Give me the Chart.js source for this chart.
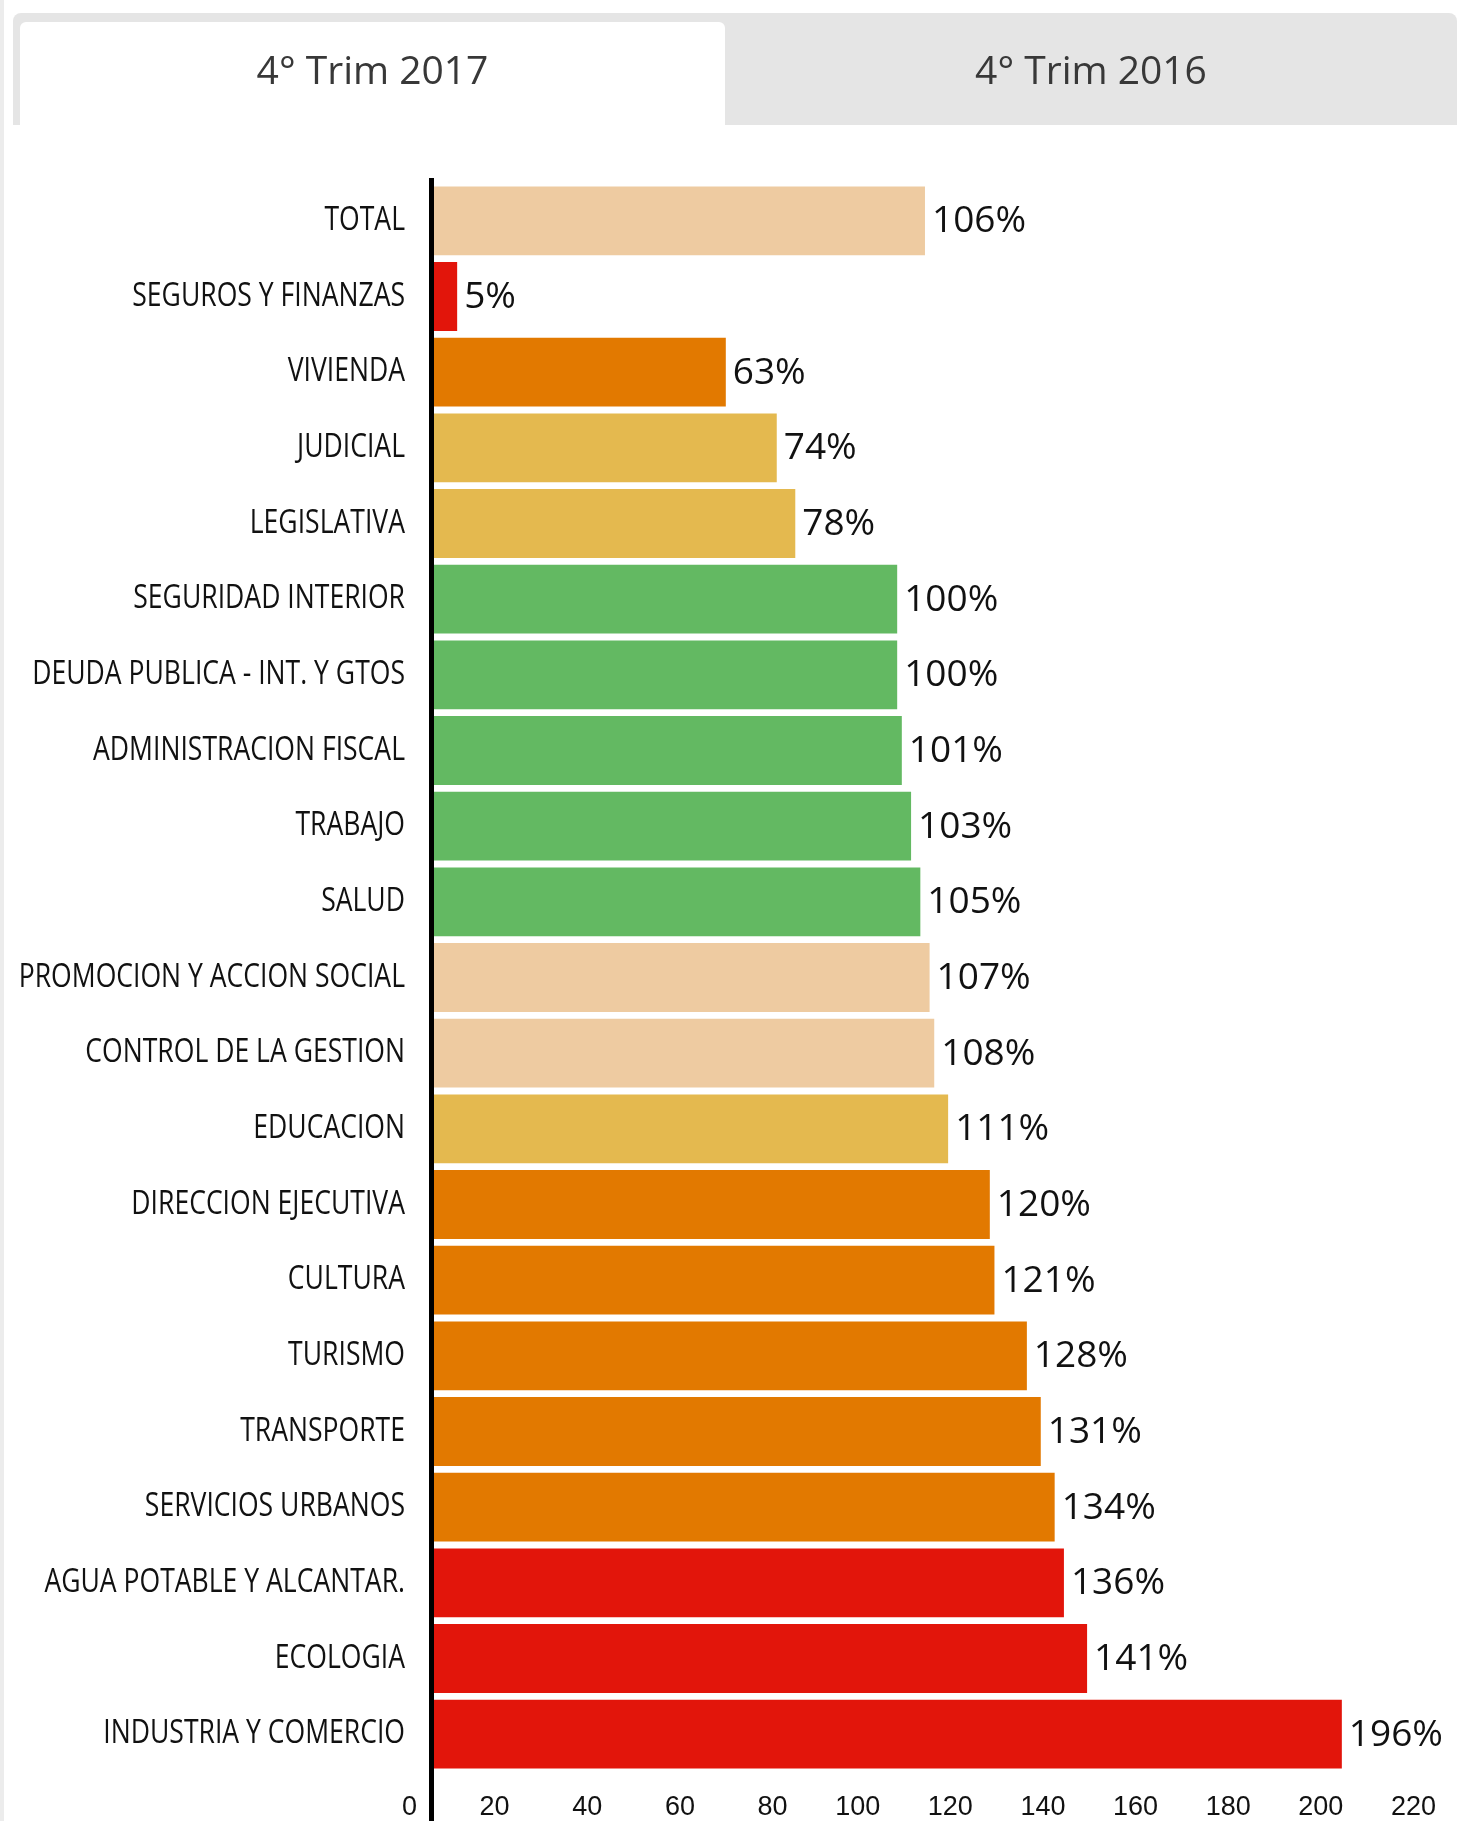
<!DOCTYPE html>
<html>
<head>
    <title>4° Trim 2017</title>
    <script src="https://cdn.jsdelivr.net/npm/chart.js"></script>
    <style>
        body {
            margin: 0;
            background-color: #fff;
            overflow: hidden;
            font-family: "Open Sans", sans-serif;
        }
        .strip {
            position: absolute;
            left: 0;
            top: 0;
            width: 4px;
            height: 1821px;
            background-color: #ececec;
        }
        .chart-container {
            position: absolute;
            left: 0;
            top: 0;
            width: 1457px;
            height: 1821px;
        }
        .tabs {
            position: absolute;
            left: 13px;
            top: 13px;
            right: 0;
            height: 112px;
            background-color: #e5e5e5;
            border-radius: 8px 8px 0 0;
        }
        .tab-bg {
            position: absolute;
            left: 7px;
            top: 9px;
            width: 705px;
            bottom: 0;
            background-color: #fff;
            border-radius: 6px 6px 0 0;
        }
        .tab {
            position: absolute;
            top: 0;
            height: 112px;
            line-height: 112px;
            text-align: center;
            font-size: 39px;
            color: #383838;
        }
        .tab.active {
            left: 7px;
            width: 705px;
        }
        .tab.other {
            left: 712px;
            right: 0;
        }
    </style>
</head>
<body>
<div class="strip"></div>
<div class="chart-container">
    <canvas id="trimChart"></canvas>
</div>
<div class="tabs">
    <div class="tab-bg"></div>
    <div class="tab active">4° Trim 2017</div>
    <div class="tab other">4° Trim 2016</div>
</div>

<script>
    const categories = [
        'TOTAL', 'SEGUROS Y FINANZAS', 'VIVIENDA', 'JUDICIAL', 'LEGISLATIVA',
        'SEGURIDAD INTERIOR', 'DEUDA PUBLICA - INT. Y GTOS', 'ADMINISTRACION FISCAL',
        'TRABAJO', 'SALUD', 'PROMOCION Y ACCION SOCIAL', 'CONTROL DE LA GESTION',
        'EDUCACION', 'DIRECCION EJECUTIVA', 'CULTURA', 'TURISMO', 'TRANSPORTE',
        'SERVICIOS URBANOS', 'AGUA POTABLE Y ALCANTAR.', 'ECOLOGIA', 'INDUSTRIA Y COMERCIO'
    ];
    const values = [106, 5, 63, 74, 78, 100, 100, 101, 103, 105, 107, 108, 111, 120, 121, 128, 131, 134, 136, 141, 196];

    const PEACH = '#eecba1', RED = '#e2150b', ORANGE = '#e27900', GOLD = '#e4b94f', GREEN = '#63b962';
    const barColors = [
        PEACH, RED, ORANGE, GOLD, GOLD,
        GREEN, GREEN, GREEN, GREEN, GREEN,
        PEACH, PEACH, GOLD,
        ORANGE, ORANGE, ORANGE, ORANGE, ORANGE,
        RED, RED, RED
    ];
    const xTicks = { min: 0, max: 220, step: 20 };

    // las etiquetas del original son de una fuente estrecha: se comprimen en horizontal
    const LABEL_STRETCH = 0.83;
    class NarrowCategoryScale extends Chart.CategoryScale {
        _computeLabelArea() {
            return undefined; // sin recorte, si no el texto comprimido se corta
        }
        drawLabels(chartArea) {
            const c = this.ctx;
            const ax = this.right - this.options.ticks.padding;
            c.save();
            c.translate(ax, 0);
            c.scale(LABEL_STRETCH, 1);
            c.translate(-ax, 0);
            super.drawLabels(chartArea);
            c.restore();
        }
    }
    NarrowCategoryScale.id = 'narrowCategory';
    NarrowCategoryScale.defaults = Chart.CategoryScale.defaults;
    Chart.register(NarrowCategoryScale);

    // etiquetas de valor + eje vertical negro
    const extras = {
        id: 'extras',
        afterDatasetsDraw(chart) {
            const c = chart.ctx;
            const meta = chart.getDatasetMeta(0);
            c.save();
            c.font = '37px "Open Sans", sans-serif';
            c.fillStyle = '#111';
            c.textAlign = 'left';
            c.textBaseline = 'middle';
            meta.data.forEach((bar, i) => {
                c.fillText(values[i] + '%', bar.x + 7, bar.y + 1);
            });
            const x0 = chart.scales.x.getPixelForValue(0);
            c.fillStyle = '#000';
            c.fillRect(x0 - 5, chart.chartArea.top - 5, 5, chart.height);
            c.restore();
        }
    };

    const ctx = document.getElementById('trimChart').getContext('2d');
    new Chart(ctx, {
        type: 'bar',
        data: {
            labels: categories,
            datasets: [{
                data: values,
                backgroundColor: barColors,
                borderWidth: 0,
                barPercentage: 0.91,
                categoryPercentage: 1.0
            }]
        },
        options: {
            indexAxis: 'y',
            responsive: true,
            maintainAspectRatio: false,
            animation: false,
            layout: { padding: { top: 183, right: 4, bottom: 0, left: 0 } },
            plugins: { legend: { display: false }, tooltip: { enabled: false } },
            scales: {
                x: {
                    min: xTicks.min,
                    max: xTicks.max,
                    grid: { display: false, drawTicks: false },
                    border: { display: false },
                    afterFit(scale) {
                        scale.height = 49;
                        scale.paddingLeft = 0;
                        scale.paddingRight = 0;
                    },
                    ticks: {
                        stepSize: xTicks.step,
                        align: 'end',
                        labelOffset: -17,
                        padding: 22,
                        maxRotation: 0,
                        color: '#111',
                        font: { family: '"Liberation Sans", Arial, sans-serif', size: 27, lineHeight: 1 }
                    }
                },
                y: {
                    type: 'narrowCategory',
                    grid: { display: false, drawTicks: false },
                    border: { display: false },
                    afterFit(scale) { scale.width = 434; },
                    ticks: {
                        padding: 29,
                        color: '#111',
                        font: { family: '"Open Sans", sans-serif', size: 32 }
                    }
                }
            }
        },
        plugins: [extras]
    });
</script>
</body>
</html>
